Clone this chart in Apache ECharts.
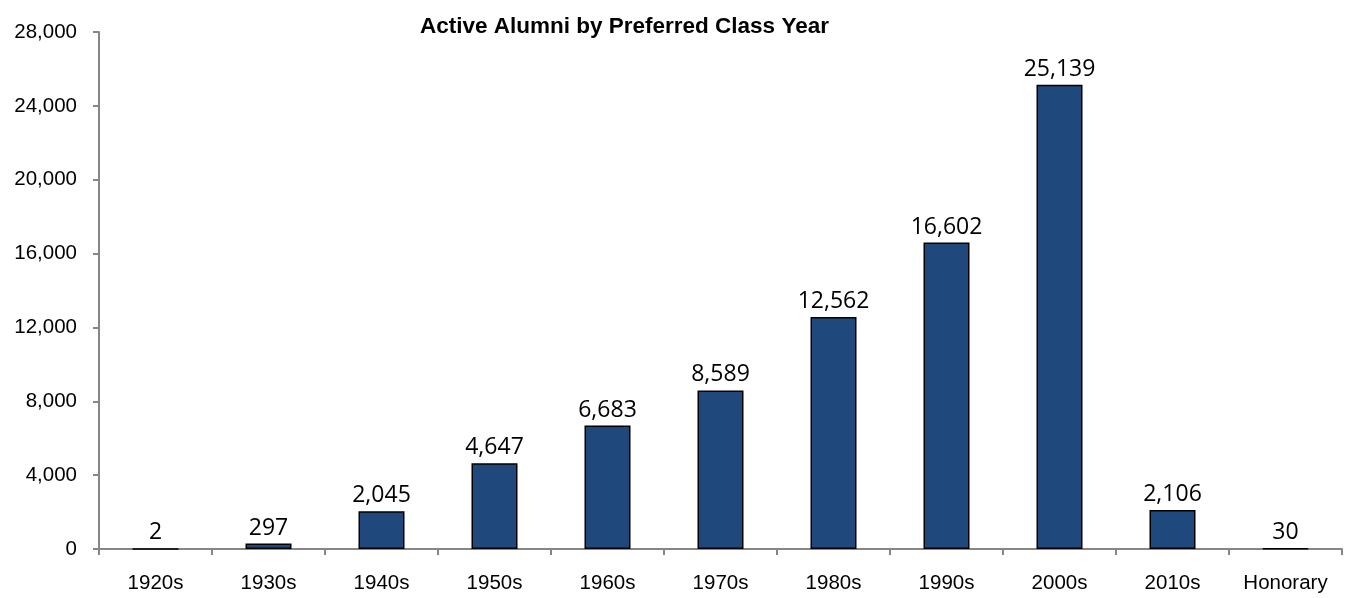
<!DOCTYPE html>
<html>
<head>
<meta charset="utf-8">
<script src="https://cdn.jsdelivr.net/npm/echarts@6/dist/echarts.min.js"></script>
<style>
  html, body { margin: 0; padding: 0; background: #fff; }
  #chart { width: 1346px; height: 598px; }
</style>
</head>
<body>
<div id="chart"></div>
<script>
// 数据
const categories = ['1920s', '1930s', '1940s', '1950s', '1960s', '1970s', '1980s', '1990s', '2000s', '2010s', 'Honorary'];
const alumni = [2, 297, 2045, 4647, 6683, 8589, 12562, 16602, 25139, 2106, 30];
const yMax = 28000;
const yStep = 4000;

const axisGray = '#868686';
const chart = echarts.init(document.getElementById('chart'));

chart.setOption({
  animation: false,
  title: {
    text: 'Active Alumni by Preferred Class Year',
    left: 415,
    top: 10,
    textStyle: { fontFamily: 'Liberation Sans', fontWeight: 'bold', fontSize: 22.5, color: '#000' }
  },
  grid: { left: 99, right: 4, top: 32, bottom: 49 },
  xAxis: {
    type: 'category',
    data: categories,
    axisLine: { lineStyle: { color: axisGray, width: 2 } },
    axisTick: { show: true, alignWithLabel: false, length: 6, lineStyle: { color: axisGray, width: 2 } },
    axisLabel: { color: '#000', fontFamily: 'Liberation Sans', fontSize: 20.5, margin: 24 }
  },
  yAxis: {
    type: 'value',
    min: 0,
    max: yMax,
    interval: yStep,
    splitLine: { show: false },
    axisLine: { show: true, lineStyle: { color: axisGray, width: 2 } },
    axisTick: { show: true, length: 6, lineStyle: { color: axisGray, width: 2 } },
    axisLabel: {
      color: '#000', fontFamily: 'Liberation Sans', fontSize: 20.5, margin: 22,
      formatter: (v) => v.toLocaleString('en-US')
    }
  },
  series: [{
    type: 'bar',
    data: alumni,
    barWidth: 46,
    itemStyle: { color: '#1F497D', borderColor: '#000', borderWidth: 1.5 },
    label: {
      show: true,
      position: 'top',
      distance: 4,
      color: '#000',
      fontFamily: 'Open Sans',
      fontSize: 23,
      formatter: (p) => p.value.toLocaleString('en-US')
    }
  }]
});
</script>
</body>
</html>
